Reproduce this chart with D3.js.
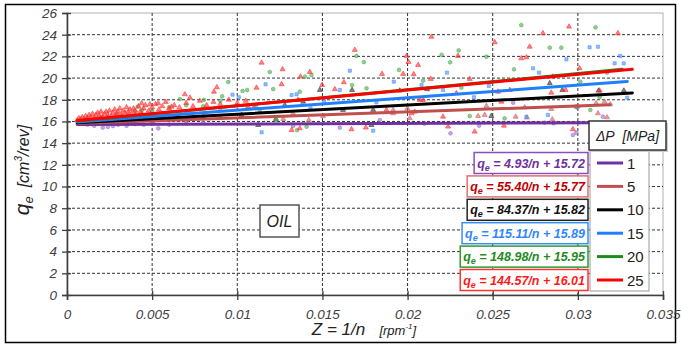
<!DOCTYPE html>
<html>
<head>
<meta charset="utf-8">
<script src="https://cdn.jsdelivr.net/npm/d3@7"></script>
<style>
  body { margin: 0; background: #fff; }
  text { font-family: "Liberation Sans", Arial, sans-serif; }
</style>
</head>
<body>
<div id="container"></div>
<script>
// ---- data ----
const xTicks = [0, 0.005, 0.01, 0.015, 0.02, 0.025, 0.03, 0.035]
const xTickLabels = ["0", "0.005", "0.01", "0.015", "0.02", "0.025", "0.03", "0.035"]
const yTicks = [0, 2, 4, 6, 8, 10, 12, 14, 16, 18, 20, 22, 24, 26]

const pressures = [1, 5, 10, 15, 20, 25]
const slopes = [4.93, 55.40, 84.37, 115.11, 148.98, 144.57]
const intercepts = [15.72, 15.77, 15.82, 15.89, 15.95, 16.01]
const lineStart = [0.0006, 0.0006, 0.0006, 0.0006, 0.0006, 0.0006]
const lineEnd = [0.0315, 0.0319, 0.0332, 0.0329, 0.0326, 0.0332]
const lineColors = ["#7030a0", "#c0504d", "#000000", "#1e7fff", "#1f8a1f", "#ff0000"]
const textColors = ["#7030a0", "#c00000", "#111111", "#2f86ff", "#228b22", "#ff1a1a"]
const boxColors = ["#8a4fc0", "#e07070", "#222222", "#3a8dff", "#2e9a2e", "#ff3333"]
const markerFill = ["#9b6fd0", "#d06060", "#333333", "#4a90ff", "#4caf50", "#ff3030"]

// ΔP = 1 MPa (circles)
const pts1 = [[0.0007,15.8],[0.0012,15.7],[0.0016,15.6],[0.0021,15.43],[0.0024,15.5],[0.0027,15.58],[0.003,15.7],
  [0.0035,15.6],[0.004,15.75],[0.0045,15.7],[0.005,15.8],[0.00536,15.37],[0.006,15.7],[0.007,15.8],[0.008,15.9],
  [0.01328,15.58],[0.01602,15.43],[0.01837,16.13],[0.0242,15.61],[0.02252,14.91],[0.0262,17.73],[0.02805,15.89],
  [0.02858,15.83],[0.02971,14.75],[0.02991,14.96],[0.02997,17.27],[0.03147,16.44]]
// ΔP = 5 MPa (triangles)
const pts5 = [[0.001,15.8],[0.003,15.9],[0.005,16.0],[0.007,16.1],[0.009,16.3],[0.0127,16.23],[0.0142,16.13],
  [0.01504,16.5],[0.01328,16.75],[0.01915,16.75],[0.01915,17.06],[0.01999,17.21],[0.02013,16.29],[0.02414,16.5],
  [0.02453,16.6],[0.02463,17.43],[0.02635,16.44],[0.02688,17.3],[0.02701,16.35],[0.02844,17.15],[0.0285,16.2],
  [0.03,17.43],[0.03108,17.67],[0.03118,16.75],[0.03157,17.82],[0.03171,16.38],[0.0319,17.58]]
// ΔP = 10 MPa (triangles)
const pts10 = [[0.001,15.8],[0.0025,15.9],[0.004,16.1],[0.006,16.3],[0.008,16.4],[0.01025,16.6],[0.01123,15.67],
  [0.01227,16.23],[0.01279,17.52],[0.01387,17.82],[0.01485,18.9],[0.01621,17.06],[0.01674,18.9],[0.01788,15.67],
  [0.01798,17.06],[0.01954,18.84],[0.02115,18.97],[0.02492,16.5],[0.02835,19.52],[0.02909,18.9],[0.03122,18.84],[0.0327,18.84]]
// ΔP = 15 MPa (squares)
const pts15 = [[0.0012,16.0],[0.003,16.3],[0.005,16.6],[0.007,16.8],[0.009,17.1],[0.00972,18.47],[0.01009,18.23],
  [0.01109,17.36],[0.01143,15.0],[0.01166,19.43],[0.01319,18.44],[0.01348,18.5],[0.0143,17.21],[0.0151,17.89],
  [0.01602,18.9],[0.01661,20.68],[0.01798,15.15],[0.01817,17.76],[0.01919,19.67],[0.02082,19.36],[0.02208,18.9],
  [0.02232,20.5],[0.0239,18.23],[0.02477,19.27],[0.02698,16.44],[0.02737,20.9],[0.02772,20.5],[0.02824,16.6],
  [0.02933,21.73],[0.03069,22.84],[0.03118,22.89],[0.03216,21.36],[0.03249,22.04],[0.03269,21.36],[0.0329,18.19]]
// ΔP = 20 MPa (circles)
const pts20 = [[0.001,16.1],[0.002,16.4],[0.003,16.6],[0.004,16.9],[0.005,17.0],[0.006,17.3],[0.007,17.5],[0.008,17.4],
  [0.009,17.9],[0.00415,17.36],[0.0044,17.06],[0.00663,18.07],[0.00804,17.98],[0.00911,18.32],[0.00947,19.64],
  [0.01031,18.81],[0.01058,18.9],[0.01133,16.9],[0.01191,20.56],[0.01211,18.99],[0.01227,16.13],[0.01351,15.21],
  [0.01367,18.74],[0.01397,20.13],[0.01407,15.52],[0.01436,20.28],[0.01674,19.36],[0.017,22.04],[0.01743,21.48],
  [0.01759,19.06],[0.0195,20.75],[0.02091,19.76],[0.02099,15.8],[0.022,22.15],[0.0225,21.45],[0.023,22.55],
  [0.02316,19.11],[0.02365,16.5],[0.02463,21.97],[0.0257,16.29],[0.02625,20.81],[0.02668,24.89],[0.02835,22.8],
  [0.02903,22.8],[0.02987,17.36],[0.03015,19.67],[0.03073,17.06],[0.03104,24.68],[0.03128,18.23],[0.03171,20.5]]
// ΔP = 25 MPa (triangles)
const pts25 = [[0.0006,16.1],[0.0007,16.3],[0.0008,16.2],[0.0008,16.0],[0.0009,16.4],[0.001,16.2],[0.0011,16.5],
  [0.0012,16.3],[0.0012,16.1],[0.0013,16.6],[0.0014,16.4],[0.0015,16.7],[0.0016,16.3],[0.0016,16.15],[0.0017,16.6],
  [0.0018,16.8],[0.0019,16.5],[0.002,16.9],[0.002,16.3],[0.0021,16.4],[0.0022,16.7],[0.0023,16.9],[0.0024,16.6],
  [0.0024,16.35],[0.0025,17.0],[0.0026,16.5],[0.0027,16.8],[0.0028,17.1],[0.0028,16.45],[0.0029,16.7],[0.003,16.9],
  [0.0031,17.2],[0.0032,16.6],[0.0032,16.4],[0.0033,17.0],[0.0034,16.8],[0.0035,17.3],[0.0036,16.9],[0.0036,16.55],
  [0.0037,17.1],[0.0038,16.7],[0.0039,17.2],[0.004,17.0],[0.004,16.6],[0.0042,17.4],[0.0043,16.9],[0.0044,16.7],
  [0.0045,17.2],[0.0046,17.5],[0.0048,17.0],[0.005,17.3],[0.0052,17.6],[0.0054,17.1],[0.0056,17.4],[0.0058,17.8],
  [0.006,17.2],[0.0063,17.5],[0.0066,17.3],[0.007,17.7],[0.0074,17.4],[0.0078,17.9],[0.0082,17.5],[0.0086,17.8],
  [0.009,17.6],[0.0095,18.0],[0.01,17.7],[0.0105,17.9],
  [0.00438,17.67],[0.00487,17.58],[0.00536,17.67],[0.00614,17.36],[0.00692,18.5],[0.00722,18.19],[0.0088,19.15],
  [0.00863,18.74],[0.01064,17.36],[0.01097,17.3],[0.01113,19.11],[0.01143,21.42],[0.0126,19.43],[0.01266,20.81],
  [0.01319,15.21],[0.01357,17.98],[0.01367,15.37],[0.01371,20.13],[0.01426,20.56],[0.01498,19.36],[0.01573,18.97],
  [0.01626,19.61],[0.01671,15.28],[0.0169,22.59],[0.01755,15.43],[0.0185,20.38],[0.01876,17.06],[0.01974,20.38],
  [0.01994,22.04],[0.02005,21.48],[0.02023,16.75],[0.02036,20.35],[0.02042,16.9],[0.02062,21.21],[0.02072,17.98],
  [0.02091,17.98],[0.0214,23.8],[0.02136,19.92],[0.02208,16.44],[0.02238,15.52],[0.02287,18.6],[0.02296,22.04],
  [0.02365,19.92],[0.02394,15.06],[0.02512,23.3],[0.02531,18.74],[0.02551,17.82],[0.02566,15.61],[0.026,18.9],
  [0.02668,21.82],[0.02698,21.91],[0.02717,22.89],[0.02795,24.13],[0.02844,18.65],[0.02854,20.13],[0.02928,18.9],
  [0.02948,24.74],[0.02971,15.28],[0.0301,20.9],[0.03128,18.84],[0.03235,24.13]]

const allPoints = [pts1, pts5, pts10, pts15, pts20, pts25]
const symbols = [d3.symbolCircle, d3.symbolTriangle, d3.symbolTriangle, d3.symbolSquare, d3.symbolCircle, d3.symbolTriangle]

// ---- layout ----
const ancho = 681
const alto = 347
const pLeft = 67, pRight = 663, pTop = 13, pBottom = 295

const svg = d3.select("#container").append("svg")
  .attr("width", ancho)
  .attr("height", alto)

// outer frame
svg.append("rect").attr("x", 5.5).attr("y", 4.5).attr("width", 670).attr("height", 338)
  .attr("fill", "#fff").attr("stroke", "#000").attr("stroke-width", 1.5)

const x = d3.scaleLinear().domain([0, 0.035]).range([pLeft, pRight])
const y = d3.scaleLinear().domain([0, 26]).range([pBottom, pTop])

// plot area border
svg.append("rect").attr("x", pLeft).attr("y", pTop).attr("width", pRight - pLeft).attr("height", pBottom - pTop)
  .attr("fill", "none").attr("stroke", "#b0b0b0")

// gridlines
svg.append("g").selectAll("line").data(yTicks.slice(1, -1)).enter().append("line")
  .attr("x1", pLeft).attr("x2", pRight).attr("y1", d => y(d)).attr("y2", d => y(d))
  .attr("stroke", "#333").attr("stroke-dasharray", "3,2")
svg.append("g").selectAll("line").data(xTicks.slice(1, -1)).enter().append("line")
  .attr("y1", pTop).attr("y2", pBottom).attr("x1", d => x(d)).attr("x2", d => x(d))
  .attr("stroke", "#333").attr("stroke-dasharray", "3,2")

// axes
const xAxis = svg.append("g").attr("transform", "translate(0," + pBottom + ")")
  .call(d3.axisBottom(x).tickValues(xTicks).tickFormat((d, i) => xTickLabels[i]).tickSizeOuter(0).tickSize(5).tickPadding(9))
const yAxis = svg.append("g").attr("transform", "translate(" + pLeft + ",0)")
  .call(d3.axisLeft(y).tickValues(yTicks).tickSizeOuter(0).tickSize(5).tickPadding(5))
svg.selectAll(".domain").attr("stroke", "#404040").attr("stroke-width", 1.6)
svg.selectAll(".tick line").attr("stroke", "#404040").attr("stroke-width", 1.3)
// cross ticks
xAxis.selectAll(".tick line").attr("y1", -4)
yAxis.selectAll(".tick line").attr("x1", 4)
svg.selectAll(".tick text").attr("font-size", 13.5).attr("font-style", "italic").attr("fill", "#404040")
  .attr("font-family", "Liberation Sans, Arial, sans-serif")

// scatter points
allPoints.forEach(function(pts, i) {
  svg.append("g").selectAll("path").data(pts).enter().append("path")
    .attr("d", d3.symbol().type(symbols[i]).size(symbols[i] === d3.symbolSquare ? 10 : 11))
    .attr("transform", d => "translate(" + x(d[0]) + "," + y(d[1]) + ")")
    .attr("fill", markerFill[i]).attr("fill-opacity", 0.6)
    .attr("stroke", markerFill[i]).attr("stroke-opacity", 0.8).attr("stroke-width", 0.7)
})

// fitted lines q = a/n + b  (Z = 1/n)
pressures.forEach(function(p, i) {
  svg.append("line")
    .attr("x1", x(lineStart[i])).attr("y1", y(slopes[i] * lineStart[i] + intercepts[i]))
    .attr("x2", x(lineEnd[i])).attr("y2", y(slopes[i] * lineEnd[i] + intercepts[i]))
    .attr("stroke", lineColors[i]).attr("stroke-width", 3).attr("stroke-linecap", "round")
})

// OIL label
svg.append("rect").attr("x", 260).attr("y", 205).attr("width", 39).attr("height", 32)
  .attr("fill", "#fff").attr("stroke", "#555").attr("stroke-width", 1.5)
svg.append("text").attr("x", 279.5).attr("y", 227).attr("text-anchor", "middle")
  .attr("font-size", 16).attr("font-style", "italic").attr("fill", "#222").text("OIL")

// legend
const rowH = 23.4
svg.append("rect").attr("x", 590).attr("y", 150).attr("width", 59).attr("height", 141)
  .attr("fill", "#fff").attr("stroke", "#999")
svg.append("rect").attr("x", 591).attr("y", 123).attr("width", 77).attr("height", 29).attr("fill", "#ccc")
svg.append("rect").attr("x", 589).attr("y", 121).attr("width", 77).attr("height", 29)
  .attr("fill", "#fff").attr("stroke", "#333").attr("stroke-width", 1.5)
svg.append("text").attr("x", 627.5).attr("y", 141).attr("text-anchor", "middle")
  .attr("font-size", 14).attr("font-style", "italic").attr("fill", "#222").text("ΔP\u00a0\u00a0[MPa]")

pressures.forEach(function(p, i) {
  const cy = 163 + i * rowH
  svg.append("line").attr("x1", 597).attr("x2", 623).attr("y1", cy).attr("y2", cy)
    .attr("stroke", lineColors[i]).attr("stroke-width", 3)
  svg.append("text").attr("x", 627).attr("y", cy + 5.5).attr("font-size", 15).attr("fill", "#222").text(p)

  // equation box
  const g = svg.append("g")
  const box = g.append("rect").attr("fill", "#fff").attr("stroke", boxColors[i]).attr("stroke-width", 1.5)
  const t = g.append("text").attr("x", 585).attr("y", cy + 4.5).attr("text-anchor", "end")
    .attr("font-size", 12.5).attr("font-weight", "bold").attr("font-style", "italic").attr("fill", textColors[i])
  t.append("tspan").text("q")
  t.append("tspan").attr("font-size", 9).attr("dy", 3).text("e")
  t.append("tspan").attr("dy", -3).text(" = " + slopes[i].toFixed(2) + "/n + " + intercepts[i].toFixed(2))
  const w = t.node().getComputedTextLength()
  box.attr("x", 585 - w - 3).attr("y", cy - 10.5).attr("width", w + 6).attr("height", 21)
})

// axis titles
const xt = svg.append("text").attr("x", 364).attr("y", 335).attr("text-anchor", "middle")
  .attr("font-style", "italic").attr("fill", "#222")
xt.append("tspan").attr("font-size", 17).text("Z = 1/n\u00a0\u00a0\u00a0")
xt.append("tspan").attr("font-size", 13).text("[rpm")
xt.append("tspan").attr("font-size", 8).attr("dy", -6).text("-1")
xt.append("tspan").attr("font-size", 13).attr("dy", 6).text("]")

const yt = svg.append("text").attr("transform", "translate(29,170) rotate(-90)").attr("text-anchor", "middle")
  .attr("font-style", "italic").attr("fill", "#222")
yt.append("tspan").attr("font-size", 21).text("q")
yt.append("tspan").attr("font-size", 13).attr("dy", 4).text("e")
yt.append("tspan").attr("font-size", 16).attr("dy", -4).text("\u00a0\u00a0[cm")
yt.append("tspan").attr("font-size", 10).attr("dy", -7).text("3")
yt.append("tspan").attr("font-size", 16).attr("dy", 7).text("/rev]")
</script>
</body>
</html>
